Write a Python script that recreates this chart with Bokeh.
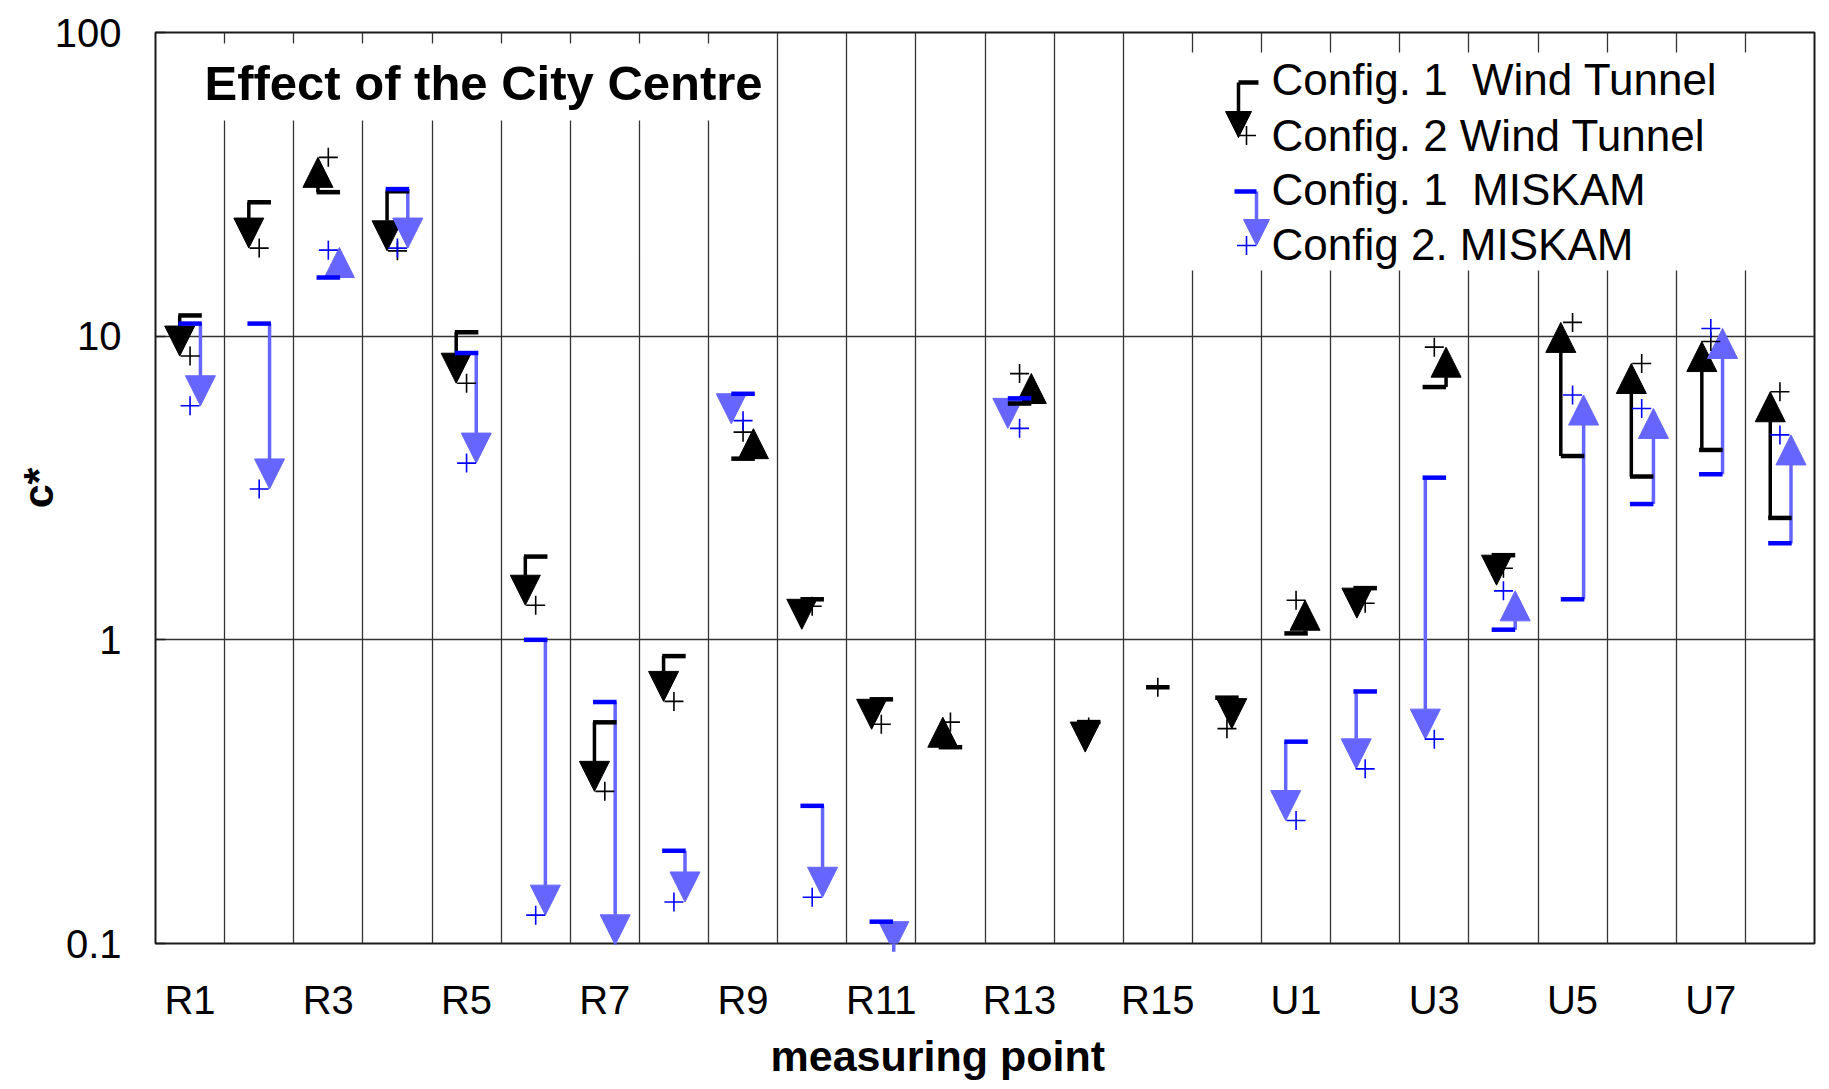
import math
from bokeh.plotting import figure
from bokeh.models import (Range1d, FixedTicker, CustomJSTickFormatter, ColumnDataSource,
                          Arrow, NormalHead, BoxAnnotation, Label, Title)
from bokeh.embed import file_html
from bokeh.resources import INLINE

# ---------------- data ----------------
categories = [f"R{i}" for i in range(1, 17)] + [f"U{i}" for i in range(1, 9)]
shown_labels = ["R1", "R3", "R5", "R7", "R9", "R11", "R13", "R15", "U1", "U3", "U5", "U7"]

wt_config1 = [11.7, 27.6, 29.8, 30.0, 10.3, 1.88, 0.535, 0.884, 3.95, 1.36, 0.637, 0.443,
              6.0, 0.536, 0.698, 0.645, 1.05, 1.48, 6.8, 1.9, 4.03, 3.45, 4.22, 2.52]
wt_config2 = [8.6, 19.5, 38.8, 19.1, 7.0, 1.3, 0.317, 0.627, 4.83, 1.29, 0.527, 0.536,
              7.53, 0.516, 0.698, 0.51, 1.35, 1.32, 9.2, 1.72, 11.1, 8.13, 9.6, 6.56]
miskam_config1 = [11.0, 11.0, 15.6, 30.5, 8.8, 1.0, 0.624, 0.202, 6.46, 0.284, 0.118, None,
                  6.24, None, None, None, 0.462, 0.676, 3.42, 1.08, 1.36, 2.80, 3.51, 2.08]
miskam_config2 = [5.9, 3.14, 19.2, 19.5, 3.82, 0.124, 0.099, 0.137, 5.27, 0.142, 0.094, None,
                  4.97, None, None, None, 0.254, 0.376, 0.471, 1.45, 6.4, 5.78, 10.6, 4.73]

# ---------------- layout (horizontal placement of the arrow shafts in each column) ----------------
wt_shaft = [0.35, 0.35, 0.35, 0.35, 0.35, 0.35, 0.35, 0.35, 0.65, 0.35, 0.36, 0.39,
            0.67, 0.45, 0.35, 0.57, 0.63, 0.38, 0.67, 0.40, 0.33, 0.35, 0.37, 0.36]
mk_shaft = [0.65, 0.65, 0.66, 0.65, 0.64, 0.64, 0.65, 0.66, 0.33, 0.65, 0.68, 0.65,
            0.33, 0.65, 0.65, 0.65, 0.35, 0.37, 0.37, 0.67, 0.66, 0.67, 0.67, 0.66]

FRAME_W, FRAME_H = 1659, 911
FRAME_LEFT, FRAME_TOP = 155, 32          # pixels of the frame's top-left corner
Y_MIN, Y_MAX = 0.1, 100.0
NCOL = len(categories)
PX_PER_DEC = FRAME_H / math.log10(Y_MAX / Y_MIN)
HEAD = 30
DASH = (0.33, 0.67)

BLACK = "#000000"
LIGHT_BLUE = "#6666FF"
BLUE = "#0000FF"
FONT = "Liberation Sans"


def xd(px):
    return (px - FRAME_LEFT) / FRAME_W * NCOL


def yd(py):
    return 10 ** (math.log10(Y_MAX) - (py - FRAME_TOP) / PX_PER_DEC)


def tip(c1, c2):
    d = math.log10(c2 / c1) * PX_PER_DEC
    if abs(d) >= HEAD:
        return c2
    return c1 * 10 ** (math.copysign(HEAD, d) / PX_PER_DEC)


def build(c1s, c2s, shafts):
    dash = dict(x0=[], x1=[], y=[])
    arr = dict(x=[], y0=[], y1=[])
    plus = dict(x=[], y=[])
    for i, (a, b, s) in enumerate(zip(c1s, c2s, shafts)):
        if a is None or b is None:
            continue
        dash["x0"].append(i + DASH[0]); dash["x1"].append(i + DASH[1]); dash["y"].append(a)
        if a != b:
            arr["x"].append(i + s); arr["y0"].append(a); arr["y1"].append(tip(a, b))
        if b >= Y_MIN:
            plus["x"].append(i + 0.5); plus["y"].append(b)
    return dash, arr, plus


p = figure(frame_width=FRAME_W, frame_height=FRAME_H,
           x_range=Range1d(0, NCOL), y_range=Range1d(Y_MIN, Y_MAX), y_axis_type="log",
           output_backend="svg", toolbar_location=None,
           min_border_left=FRAME_LEFT, min_border_right=4, min_border_top=FRAME_TOP,
           min_border_bottom=140)
p.background_fill_color = "white"
p.border_fill_color = "white"
p.outline_line_color = "#1a1a1a"
p.outline_line_width = 2

p.xgrid.ticker = FixedTicker(ticks=list(range(1, NCOL)))
p.ygrid.ticker = FixedTicker(ticks=[1, 10])
for g in (p.xgrid, p.ygrid):
    g.grid_line_color = "#333333"
    g.grid_line_width = 1.3
    g.grid_line_alpha = 1.0

p.xaxis.ticker = FixedTicker(ticks=[categories.index(l) + 0.5 for l in shown_labels])
p.xaxis.formatter = CustomJSTickFormatter(args=dict(names=categories),
                                          code="return names[Math.floor(tick)];")
p.xaxis.major_tick_line_color = None
p.xaxis.minor_tick_line_color = None
p.xaxis.axis_line_color = None
p.xaxis.major_label_standoff = 28

p.yaxis.ticker = FixedTicker(ticks=[0.1, 1, 10, 100])
p.yaxis.formatter = CustomJSTickFormatter(code="return tick < 0.5 ? tick.toFixed(1) : tick.toFixed(0);")
p.yaxis.major_tick_in = 10
p.yaxis.major_tick_out = 0
p.yaxis.major_tick_line_color = "#1a1a1a"
p.yaxis.major_tick_line_width = 1.5
p.yaxis.minor_tick_line_color = None
p.yaxis.axis_line_color = None
p.yaxis.major_label_standoff = 34
p.yaxis.axis_label = "c*"
p.yaxis.axis_label_standoff = -10
p.yaxis.axis_label_text_font = FONT
p.yaxis.axis_label_text_font_size = "43px"
p.yaxis.axis_label_text_font_style = "bold"
p.yaxis.axis_label_text_color = "black"

for ax in (p.xaxis, p.yaxis):
    ax.major_label_text_font = FONT
    ax.major_label_text_font_size = "40px"
    ax.major_label_text_color = "black"

# x title sits somewhat left of the frame centre in the reference
p.add_layout(Title(text="measuring point", align="left", offset=615, standoff=11,
                   text_font=FONT, text_font_size="43px", text_font_style="bold",
                   text_color="black"), "below")

# white panels behind the title and the legend (grid lines are hidden there)
p.add_layout(BoxAnnotation(left=xd(162), right=xd(772), top=yd(43), bottom=yd(120),
                           fill_color="white", fill_alpha=1.0, line_color=None))
p.add_layout(BoxAnnotation(left=xd(1135), right=xd(1811), top=yd(52), bottom=yd(270),
                           fill_color="white", fill_alpha=1.0, line_color=None))

series = [
    (wt_config1, wt_config2, wt_shaft, BLACK, BLACK, BLACK),
    (miskam_config1, miskam_config2, mk_shaft, LIGHT_BLUE, BLUE, BLUE),
]
for c1s, c2s, shafts, acol, dcol, pcol in series:
    dash, arr, plus = build(c1s, c2s, shafts)
    p.add_layout(Arrow(end=NormalHead(size=HEAD, fill_color=acol, line_color=acol, line_width=1),
                       x_start="x", y_start="y0", x_end="x", y_end="y1",
                       source=ColumnDataSource(arr), line_color=acol, line_width=3.5))
    p.segment(x0="x0", x1="x1", y0="y", y1="y", source=ColumnDataSource(dash),
              line_color=dcol, line_width=4.5, level="overlay")
    p.scatter(x="x", y="y", source=ColumnDataSource(plus), marker="cross", size=19,
              line_color=pcol, line_width=1.6, level="overlay")

# ---------------- legend ----------------
leg = [
    # shaft x, dash x0, dash x1, c1 y, tip y, plus x, plus y, colours
    (1238, 1238, 1258, 82, 137, 1246, 135, BLACK, BLACK, BLACK),
    (1256, 1234, 1256, 191, 245, 1246, 245, LIGHT_BLUE, BLUE, BLUE),
]
for sx, dx0, dx1, y1, y2, px, py, acol, dcol, pcol in leg:
    p.add_layout(Arrow(end=NormalHead(size=26, fill_color=acol, line_color=acol, line_width=1),
                       x_start=xd(sx), y_start=yd(y1), x_end=xd(sx), y_end=yd(y2),
                       line_color=acol, line_width=3.5))
    p.segment(x0=[xd(dx0)], x1=[xd(dx1)], y0=[yd(y1)], y1=[yd(y1)],
              line_color=dcol, line_width=4.5, level="overlay")
    p.scatter(x=[xd(px)], y=[yd(py)], marker="cross", size=19, line_color=pcol,
              line_width=1.6, level="overlay")

legend_texts = ["Config. 1\u00a0 Wind Tunnel", "Config. 2 Wind Tunnel",
                "Config. 1\u00a0 MISKAM", "Config 2. MISKAM"]
legend_rows = [79, 135, 189, 244]
for t, r in zip(legend_texts, legend_rows):
    p.add_layout(Label(x=xd(1271), y=yd(r), text=t, text_font=FONT, text_font_size="44px",
                       text_color="black", text_baseline="middle", text_align="left"))

p.add_layout(Label(x=xd(204), y=yd(82), text="Effect of the City Centre", text_font=FONT,
                   text_font_size="49px", text_font_style="bold", text_color="black",
                   text_baseline="middle", text_align="left"))

open("out.html", "w").write(file_html(p, INLINE))
